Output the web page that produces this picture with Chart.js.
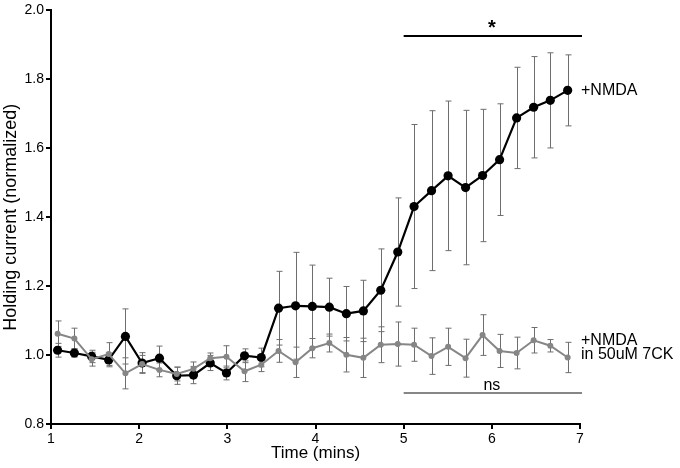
<!DOCTYPE html>
<html>
<head>
<meta charset="utf-8">
<script src="https://cdn.jsdelivr.net/npm/chart.js@4.4.1/dist/chart.umd.min.js"></script>
<style>
  html, body { margin: 0; padding: 0; background: #fff; }
  #wrap { width: 680px; height: 468px; }
</style>
</head>
<body>
<div id="wrap"><canvas id="c" width="680" height="468"></canvas></div>
<script>
// Time points (minutes)
const timePoints = [1.075, 1.265, 1.461, 1.654, 1.844, 2.033, 2.230, 2.426, 2.616, 2.806,
  2.990, 3.195, 3.385, 3.581, 3.774, 3.964, 4.157, 4.350, 4.543, 4.740,
  4.933, 5.118, 5.316, 5.504, 5.702, 5.895, 6.088, 6.281, 6.474, 6.663, 6.860];

// +NMDA (black)
const nmdaMean = [1.014, 1.006, 0.996, 0.986, 1.054, 0.977, 0.991, 0.940, 0.942, 0.977,
  0.948, 0.998, 0.993, 1.136, 1.143, 1.141, 1.139, 1.120, 1.128, 1.188,
  1.299, 1.431, 1.477, 1.520, 1.486, 1.521, 1.567, 1.688, 1.719, 1.739, 1.768];
const nmdaErr = [0.020, 0.012, 0.018, 0.020, 0.080, 0.030, 0.035, 0.025, 0.025, 0.022,
  0.020, 0.020, 0.027, 0.107, 0.155, 0.120, 0.084, 0.079, 0.089, 0.120,
  0.157, 0.238, 0.232, 0.217, 0.224, 0.192, 0.162, 0.147, 0.147, 0.138, 0.103];

// +NMDA in 50uM 7CK (grey)
const ckMean = [1.062, 1.048, 0.988, 1.003, 0.947, 0.974, 0.957, 0.945, 0.960, 0.991,
  0.995, 0.953, 0.972, 1.012, 0.979, 1.020, 1.035, 1.001, 0.992, 1.030,
  1.032, 1.030, 0.997, 1.024, 0.991, 1.058, 1.012, 1.006, 1.043, 1.027, 0.993];
const ckErr = [0.037, 0.030, 0.020, 0.033, 0.045, 0.025, 0.020, 0.020, 0.020, 0.015,
  0.032, 0.030, 0.020, 0.033, 0.044, 0.028, 0.026, 0.050, 0.057, 0.052,
  0.064, 0.048, 0.053, 0.054, 0.055, 0.059, 0.048, 0.046, 0.037, 0.018, 0.044];

// Axis ticks
const xTicks = [1, 2, 3, 4, 5, 6, 7];
const yTicks = [0.8, 1.0, 1.2, 1.4, 1.6, 1.8, 2.0];

// Significance annotations
const sigStar = { from: 5, to: 7, y: 1.926, label: '*' };
const sigNs = { from: 5, to: 7, y: 0.890, label: 'ns' };

// Series labels
const labelNmda = ['+NMDA'];
const labelCk = ['+NMDA', 'in 50uM 7CK'];

const BLACK = '#000000';
const GREY = '#868686';
const ERR = '#6e6e6e';
const FONT = "'Liberation Sans', Arial, Helvetica, sans-serif";

function toXY(xs, ys) { return xs.map((x, i) => ({ x: x, y: ys[i] })); }

const errorBarPlugin = {
  id: 'errorBars',
  beforeDatasetsDraw(chart) {
    const ctx = chart.ctx;
    const xs = chart.scales.x, ys = chart.scales.y;
    const sets = [
      { mean: ckMean, err: ckErr, color: ERR },
      { mean: nmdaMean, err: nmdaErr, color: ERR }
    ];
    ctx.save();
    ctx.lineWidth = 1;
    sets.forEach(s => {
      ctx.strokeStyle = s.color;
      timePoints.forEach((t, i) => {
        const px = Math.round(xs.getPixelForValue(t)) + 0.5;
        const top = ys.getPixelForValue(s.mean[i] + s.err[i]);
        const bot = ys.getPixelForValue(s.mean[i] - s.err[i]);
        ctx.beginPath();
        ctx.moveTo(px, top); ctx.lineTo(px, bot);
        ctx.moveTo(px - 3, top); ctx.lineTo(px + 3, top);
        ctx.moveTo(px - 3, bot); ctx.lineTo(px + 3, bot);
        ctx.stroke();
      });
    });
    ctx.restore();
  }
};

const annotationPlugin = {
  id: 'annots',
  afterDraw(chart) {
    const ctx = chart.ctx;
    const xs = chart.scales.x, ys = chart.scales.y;
    ctx.save();
    // star bar
    let x1 = xs.getPixelForValue(sigStar.from), x2 = xs.getPixelForValue(sigStar.to);
    let y = ys.getPixelForValue(sigStar.y);
    ctx.strokeStyle = BLACK; ctx.lineWidth = 2;
    ctx.beginPath(); ctx.moveTo(x1, y); ctx.lineTo(x2 + 2, y); ctx.stroke();
    ctx.fillStyle = BLACK;
    ctx.font = 'bold 20px ' + FONT;
    ctx.textAlign = 'center'; ctx.textBaseline = 'middle';
    ctx.fillText(sigStar.label, (x1 + x2) / 2, y - 7);
    // ns bar
    x1 = xs.getPixelForValue(sigNs.from); x2 = xs.getPixelForValue(sigNs.to);
    y = ys.getPixelForValue(sigNs.y);
    ctx.strokeStyle = GREY; ctx.lineWidth = 2;
    ctx.beginPath(); ctx.moveTo(x1, y); ctx.lineTo(x2 + 2, y); ctx.stroke();
    ctx.fillStyle = BLACK;
    ctx.font = '16px ' + FONT;
    ctx.textBaseline = 'alphabetic';
    ctx.fillText(sigNs.label, (x1 + x2) / 2, y - 3);
    // series labels
    const lx = xs.right + 1;
    ctx.textAlign = 'left'; ctx.textBaseline = 'middle';
    ctx.font = '16px ' + FONT;
    const yN = ys.getPixelForValue(nmdaMean[nmdaMean.length - 1]);
    ctx.fillText(labelNmda[0], lx, yN);
    const yC = ys.getPixelForValue(1.023);
    ctx.fillText(labelCk[0], lx, yC - 6.5);
    ctx.fillText(labelCk[1], lx, yC + 7.5);
    ctx.restore();
  }
};

new Chart(document.getElementById('c'), {
  type: 'line',
  data: {
    datasets: [
      {
        label: '+NMDA in 50uM 7CK',
        data: toXY(timePoints, ckMean),
        borderColor: GREY, backgroundColor: GREY,
        borderWidth: 2, pointRadius: 3, pointBorderWidth: 0,
        tension: 0
      },
      {
        label: '+NMDA',
        data: toXY(timePoints, nmdaMean),
        borderColor: BLACK, backgroundColor: BLACK,
        borderWidth: 2.2, pointRadius: 4.6, pointBorderWidth: 0,
        tension: 0
      }
    ]
  },
  options: {
    responsive: false,
    animation: false,
    events: [],
    layout: { padding: { top: 8, right: 100, left: 0, bottom: 0 } },
    plugins: { legend: { display: false }, tooltip: { enabled: false } },
    scales: {
      x: {
        type: 'linear', min: 1, max: 7,
        afterFit(s) { s.height = 44; },
        afterBuildTicks(s) { s.ticks = xTicks.map(v => ({ value: v })); },
        grid: { drawOnChartArea: false, drawTicks: true, tickLength: 5, color: BLACK, lineWidth: 2 },
        border: { display: true, color: BLACK, width: 2 },
        ticks: { color: BLACK, font: { family: FONT, size: 14 }, padding: 2, maxRotation: 0,
                 callback: v => String(v) },
        title: { display: true, text: 'Time (mins)', color: BLACK,
                 font: { family: FONT, size: 17 }, padding: { top: 0, bottom: 4 } }
      },
      y: {
        type: 'linear', min: 0.8, max: 2.0,
        afterFit(s) { s.width = 51; },
        afterBuildTicks(s) { s.ticks = yTicks.map(v => ({ value: v })); },
        grid: { drawOnChartArea: false, drawTicks: true, tickLength: 5, color: BLACK, lineWidth: 2 },
        border: { display: true, color: BLACK, width: 2 },
        ticks: { color: BLACK, font: { family: FONT, size: 14 }, padding: 2,
                 callback: v => Number(v).toFixed(1) },
        title: { display: true, text: 'Holding current (normalized)', color: BLACK,
                 font: { family: FONT, size: 18 }, padding: { top: 0, bottom: 0 } }
      }
    }
  },
  plugins: [errorBarPlugin, annotationPlugin]
});
</script>
</body>
</html>
